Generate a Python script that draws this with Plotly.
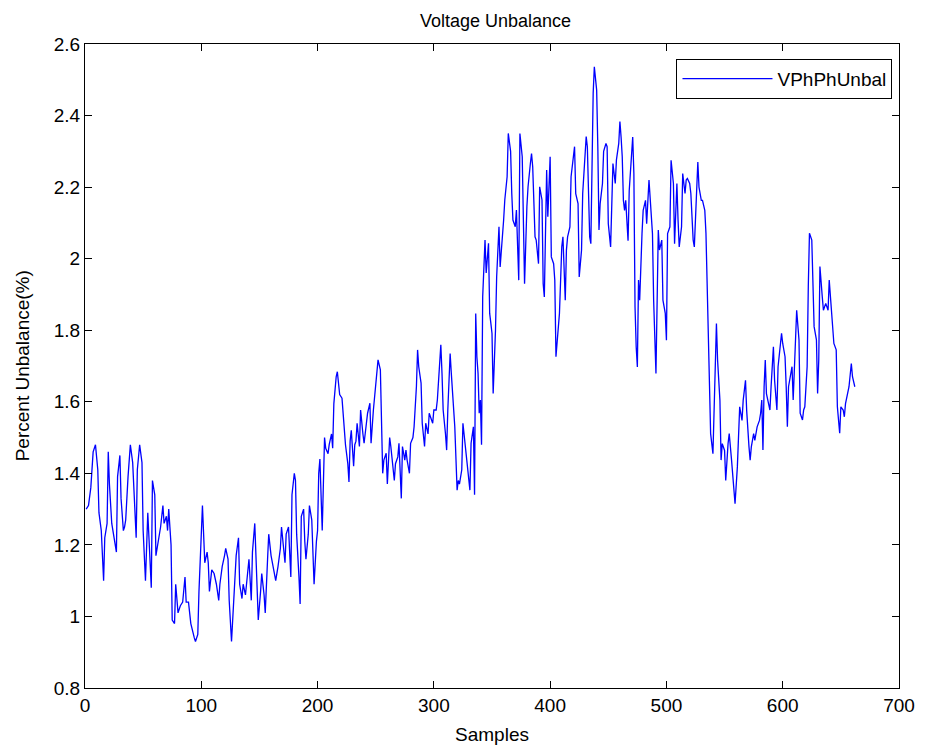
import plotly.graph_objects as go

series_name = "VPhPhUnbal"
chart_title = "Voltage Unbalance"
x_label = "Samples"
y_label = "Percent Unbalance(%)"

samples = [
    1, 3, 5, 7, 9, 11, 12, 14, 16, 17, 19, 20, 21, 23, 26, 27, 28, 30, 31, 33, 34, 35, 37, 39, 41, 43, 44, 45,
    47, 49, 50, 52, 54, 55, 57, 58, 60, 61, 63, 65, 67, 68, 70, 71, 72, 74, 75, 77, 78, 80, 82, 84, 86, 87, 89,
    91, 94, 95, 97, 98, 100, 101, 103, 105, 106, 107, 109, 111, 113, 115,
    116, 118, 120, 121, 123, 124, 126, 127, 129, 130, 132, 133, 135, 136, 138, 140, 141, 143, 144, 146, 148,
    149, 151, 152, 154, 155, 157, 158, 160, 162, 164, 166, 168, 169, 171, 172, 173, 175, 176, 177, 178, 180,
    181, 182, 184, 185, 186, 188, 189, 190, 192, 193, 195, 196, 197, 199, 200, 201, 202, 204, 205, 206, 207,
    209, 210, 212, 213, 214, 216, 217, 219, 221, 222, 224, 226, 227, 228, 229, 231, 232, 233,
    234, 236, 237, 239, 240, 242, 243, 245, 246, 248, 249, 251, 252, 254, 255, 256, 257, 259, 260, 262, 263,
    265, 266, 267, 269, 270, 272, 273, 275, 276, 277, 279, 280, 282, 283, 285, 286, 287, 289, 290, 292, 293,
    295, 296, 297, 299, 300, 302, 303, 304, 306, 307, 308, 310, 311, 312, 314, 315, 317, 318, 320, 321, 322,
    324, 325, 327, 328, 330, 331, 332, 334, 335, 336, 337, 338, 339, 340, 341, 342, 344, 345,
    347, 348, 349, 350, 351, 353, 354, 356, 357, 358, 360, 361, 363, 364, 366, 367, 368, 370, 371, 373, 374,
    376, 377, 378, 380, 381, 383, 384, 385, 387, 388, 390, 391, 393, 394, 395, 397, 398, 400, 401, 403, 404,
    405, 407, 408, 410, 411, 413, 414, 415, 417, 418, 420, 421, 422, 424, 425, 427, 428, 430, 431, 432, 434,
    435, 436, 437, 438, 440, 441, 442, 443, 445, 446, 448, 449, 450, 452, 453, 454, 456, 457, 459, 460,
    461, 462, 463, 464, 465, 467, 468, 470, 471, 472, 473, 474, 475, 476, 477, 479, 480, 482, 483, 485, 486,
    488, 489, 490, 491, 493, 494, 496, 497, 499, 500, 501, 503, 504, 506, 507, 509, 510, 511, 513, 514, 516,
    517, 518, 520, 521, 523, 524, 526, 527, 528, 530, 531, 533, 534, 536, 537, 538, 540, 541, 543, 544, 546,
    547, 548, 550, 551, 553, 554, 556, 557, 558, 559, 561, 562, 563, 565, 566, 568, 569, 571, 572, 573, 575,
    576, 578, 580,
    581, 582, 583, 584, 585, 586, 588, 589, 590, 592, 593, 595, 596, 597, 599, 600, 602, 603, 604, 605, 607,
    608, 609, 611, 612, 614, 615, 617, 618, 619, 621, 622, 623, 625, 626, 627, 629, 630, 631, 632, 634, 635,
    637, 638, 639, 640, 642, 643, 644, 646, 647, 649, 650, 652, 653, 654, 656, 657, 659, 660, 662,
]

unbalance = [
    1.30, 1.31, 1.36, 1.46, 1.48, 1.41, 1.29, 1.24, 1.10, 1.22, 1.26, 1.46, 1.37, 1.26, 1.20, 1.18, 1.39, 1.45,
    1.33, 1.24, 1.25, 1.27, 1.39, 1.48, 1.43, 1.30, 1.22, 1.41,
    1.48, 1.43, 1.24, 1.10, 1.29, 1.22, 1.08, 1.38, 1.34, 1.17, 1.21, 1.25, 1.31, 1.26, 1.28, 1.24, 1.30, 1.20,
    0.99, 0.98, 1.09, 1.01, 1.03, 1.04, 1.11, 1.04, 1.04,
    0.98, 0.94, 0.93, 0.95, 1.07, 1.23, 1.31, 1.15, 1.18, 1.15, 1.07, 1.13, 1.12, 1.09, 1.045,
    1.09, 1.14, 1.17, 1.19, 1.16, 1.045, 0.93, 1.00, 1.14, 1.17, 1.22, 1.09, 1.05, 1.09, 1.06, 1.14, 1.16,
    1.045, 1.18, 1.26, 1.045,
    0.99, 1.07, 1.12, 1.06, 1.01, 1.16, 1.23, 1.17, 1.14, 1.10, 1.14, 1.19, 1.25, 1.19, 1.15, 1.23, 1.25,
    1.18, 1.11, 1.34, 1.40,
    1.38, 1.23, 1.11, 1.035, 1.28, 1.30, 1.21, 1.16, 1.23, 1.31, 1.27, 1.15, 1.09, 1.21, 1.24, 1.40, 1.44,
    1.24, 1.34, 1.50, 1.47,
    1.455, 1.48, 1.51, 1.47, 1.595, 1.67, 1.684, 1.62, 1.61, 1.567, 1.48, 1.427, 1.376, 1.49, 1.52, 1.42,
    1.48, 1.49,
    1.54, 1.475, 1.577, 1.51, 1.484, 1.54, 1.568, 1.596, 1.484, 1.577, 1.614, 1.703, 1.717, 1.689, 1.50,
    1.40, 1.437, 1.456, 1.37, 1.50, 1.475,
    1.41, 1.38, 1.427, 1.446, 1.484, 1.33, 1.475, 1.437, 1.465, 1.437, 1.40, 1.484, 1.50, 1.53, 1.642,
    1.745, 1.698, 1.652, 1.54, 1.475, 1.54,
    1.51, 1.568, 1.558, 1.54, 1.577, 1.577, 1.605, 1.652, 1.759, 1.68, 1.577, 1.51, 1.465, 1.577, 1.735,
    1.68, 1.596, 1.53, 1.353, 1.38, 1.37,
    1.41, 1.54, 1.475, 1.437, 1.39, 1.353, 1.484, 1.53, 1.34, 1.847, 1.726, 1.68, 1.568, 1.605, 1.48,
    1.894, 2.052, 1.96,
    2.043, 1.847, 1.82, 1.791, 1.623, 1.80, 1.949, 2.089, 1.977, 2.014, 2.108, 2.164, 2.229, 2.35, 2.30,
    2.182, 2.108, 2.089, 2.136, 1.94, 2.35,
    2.285, 2.024, 1.93, 2.145, 2.201, 2.266, 2.294, 2.257, 2.061, 2.052, 1.986, 2.201, 2.164, 1.93, 1.893,
    2.248, 2.117, 2.285, 2.005, 1.986, 1.94,
    1.726, 1.828, 1.847, 2.033, 2.061, 1.884, 2.024, 2.061, 2.089, 2.229, 2.276, 2.313, 2.182, 2.154, 1.949,
    2.024, 2.182, 2.276, 2.341, 2.313, 2.061,
    2.042, 2.30, 2.462, 2.536, 2.471, 2.313, 2.08, 2.154, 2.21, 2.30, 2.322, 2.313, 2.098, 2.033, 2.192,
    2.266, 2.21, 2.276, 2.322, 2.383,
    2.34, 2.285, 2.163, 2.135, 2.163, 2.05, 2.19, 2.275, 2.34, 2.238, 1.865, 1.753, 1.697, 1.94, 1.884,
    2.07, 2.135, 2.163, 2.098, 2.22, 2.163,
    2.07, 1.884, 1.772, 1.679, 2.08, 2.024, 2.052, 1.884, 1.847, 1.772, 2.07, 2.089, 2.275, 2.21, 2.042,
    2.21, 2.107, 2.033, 2.089, 2.238, 2.182,
    2.22, 2.224, 2.21, 2.182, 2.052, 2.033, 2.20, 2.27, 2.20, 2.163, 2.163, 2.135, 2.07, 1.744, 1.651,
    1.511, 1.455, 1.558, 1.819, 1.716, 1.604,
    1.437, 1.483, 1.464, 1.38, 1.483, 1.511, 1.437, 1.40, 1.343, 1.315, 1.418, 1.511, 1.586, 1.548, 1.604,
    1.66, 1.576, 1.474, 1.437, 1.474, 1.511,
    1.492, 1.53, 1.548,
    1.568, 1.605, 1.465, 1.642, 1.717, 1.623, 1.595, 1.577, 1.642, 1.754, 1.661, 1.577, 1.698, 1.726,
    1.791, 1.763, 1.726, 1.642, 1.53, 1.642, 1.679,
    1.698, 1.605, 1.773, 1.856, 1.773, 1.568, 1.549, 1.577, 1.586, 1.698, 1.922, 2.071, 2.052, 1.931,
    1.81, 1.773, 1.623, 1.717, 1.978, 1.894, 1.856,
    1.875, 1.866, 1.856, 1.94, 1.847, 1.791, 1.763, 1.745, 1.586, 1.512, 1.586, 1.577, 1.558, 1.595,
    1.623, 1.642, 1.707, 1.67, 1.642,
]

x_range = [0, 700]
x_ticks = [0, 100, 200, 300, 400, 500, 600, 700]
y_range = [0.8, 2.6]
y_ticks = [0.8, 1.0, 1.2, 1.4, 1.6, 1.8, 2.0, 2.2, 2.4, 2.6]
y_ticktext = ["0.8", "1", "1.2", "1.4", "1.6", "1.8", "2", "2.2", "2.4", "2.6"]

FONT = "Liberation Sans, Arial, Helvetica, sans-serif"
FS = 19

fig = go.Figure()
fig.add_trace(go.Scatter(
    x=samples, y=unbalance, mode="lines", name=series_name,
    line=dict(color="#0000ff", width=1.3),
))

axis_common = dict(
    showgrid=False, zeroline=False, showline=True, linecolor="black", linewidth=1,
    mirror="ticks", ticks="inside", ticklen=7, tickcolor="black", tickwidth=1,
    tickfont=dict(family=FONT, size=FS, color="black"),
)

fig.update_layout(
    width=927, height=753,
    margin=dict(l=85, r=21, t=44, b=65),
    paper_bgcolor="white", plot_bgcolor="white",
    font=dict(family=FONT, size=FS, color="black"),
    title=dict(text=chart_title, x=0.5345, xanchor="center", y=0.973, yanchor="middle",
               font=dict(family=FONT, size=18, color="black")),
    xaxis=dict(range=x_range, tickvals=x_ticks, title=dict(text=x_label, standoff=12,
               font=dict(family=FONT, size=FS)), **axis_common),
    yaxis=dict(range=y_range, tickvals=y_ticks, ticktext=y_ticktext, **axis_common),
    annotations=[dict(text=y_label, xref="paper", yref="paper", x=-0.077, y=0.5,
                      xanchor="center", yanchor="middle", textangle=-90, showarrow=False,
                      font=dict(family=FONT, size=FS, color="black"))],
    showlegend=True,
    legend=dict(x=0.992, y=0.977, xanchor="right", yanchor="top",
                bgcolor="white", bordercolor="black", borderwidth=1,
                itemwidth=90,
                font=dict(family=FONT, size=FS, color="black")),
)

fig.write_html("out.html")
